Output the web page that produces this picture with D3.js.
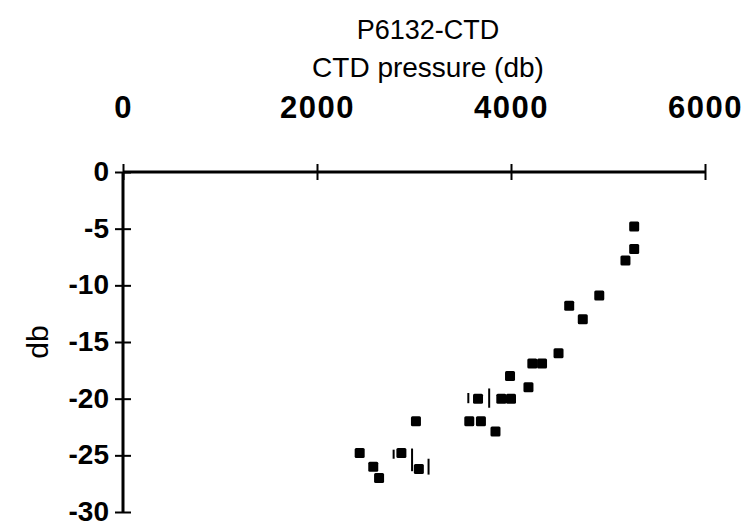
<!DOCTYPE html>
<html>
<head>
<meta charset="utf-8">
<script src="https://cdn.jsdelivr.net/npm/d3@7"></script>
<style>
  body { margin: 0; background: #fff; }
  text { font-family: "Liberation Sans", Arial, sans-serif; fill: #000; }
</style>
</head>
<body id="body">
<script>
// values
var pressure = [5270, 5270, 5180, 4910, 4600, 4740, 4490, 4220, 4320, 3990, 4180,
                3660, 3900, 4000, 3020, 3570, 3690, 3840, 2440, 2870, 2580, 3050, 2640];
var depth    = [-4.8, -6.8, -7.8, -10.9, -11.8, -13, -16, -16.9, -16.9, -18, -19,
                -20, -20, -20, -22, -22, -22, -22.9, -24.8, -24.8, -26, -26.2, -27];

// thin vertical bars next to some points
var barX      = [3560, 3775, 2790, 2980, 3150];
var barTop    = [-19.5, -19.1, -24.5, -24.4, -25.3];
var barBottom = [-20.4, -20.8, -25.3, -26.4, -26.7];

var xTicks = [0, 2000, 4000, 6000];
var yTicks = [0, -5, -10, -15, -20, -25, -30];

var svg = d3.select("body").append("svg")
            .attr("width", 748)
            .attr("height", 527);

var x = d3.scaleLinear().domain([0, 6000]).range([123, 705]);
var y = d3.scaleLinear().domain([0, -30]).range([172, 512]);

// plain hyphen for negatives, like the original
var fmt = function(d) { return String(d); };

svg.append("text")
   .attr("x", 428).attr("y", 39)
   .attr("text-anchor", "middle")
   .style("font-size", "27px")
   .text("P6132-CTD");

svg.append("text")
   .attr("x", 428).attr("y", 77)
   .attr("text-anchor", "middle")
   .style("font-size", "28px")
   .text("CTD pressure (db)");

svg.append("text")
   .attr("transform", "translate(48,342) rotate(-90)")
   .attr("text-anchor", "middle")
   .style("font-size", "30px")
   .text("db");

// axes: lines with ticks that cross the line
var xAxis = svg.append("g").attr("transform", "translate(0,172)")
               .call(d3.axisTop(x).tickValues(xTicks).tickSize(8).tickFormat(fmt));
var yAxis = svg.append("g").attr("transform", "translate(123,0)")
               .call(d3.axisLeft(y).tickValues(yTicks).tickSize(0).tickFormat(fmt));

xAxis.select(".domain").attr("d", "M" + x(0) + ",0H" + x(6000)).attr("stroke-width", 3);
xAxis.selectAll(".tick line").attr("y1", 8).attr("y2", -8).attr("stroke-width", 2);
xAxis.selectAll(".tick text").attr("y", -54)
     .style("font-size", "31px").style("font-weight", "bold")
     .style("letter-spacing", "1.5px")
     .style("font-family", "Liberation Sans, Arial, sans-serif");

yAxis.select(".domain").attr("d", "M0," + y(0) + "V" + y(-30)).attr("stroke-width", 3);
yAxis.selectAll(".tick line").attr("x1", -8).attr("x2", 8).attr("stroke-width", 2);
yAxis.selectAll(".tick text").attr("x", -14).attr("dy", "0.3em")
     .style("font-size", "28px").style("font-weight", "bold")
     .style("font-family", "Liberation Sans, Arial, sans-serif");

svg.selectAll("line.bar")
   .data(barX)
   .enter()
      .append("line")
      .attr("class", "bar")
      .attr("x1", function(d) { return x(d); })
      .attr("x2", function(d) { return x(d); })
      .attr("y1", function(d, i) { return y(barTop[i]); })
      .attr("y2", function(d, i) { return y(barBottom[i]); })
      .attr("stroke", "#000")
      .attr("stroke-width", 2);

svg.selectAll("rect.pt")
   .data(pressure)
   .enter()
      .append("rect")
      .attr("class", "pt")
      .attr("x", function(d) { return x(d) - 5; })
      .attr("y", function(d, i) { return y(depth[i]) - 5; })
      .attr("width", 10)
      .attr("height", 10)
      .attr("rx", 1.5)
      .attr("fill", "#000");
</script>
</body>
</html>
